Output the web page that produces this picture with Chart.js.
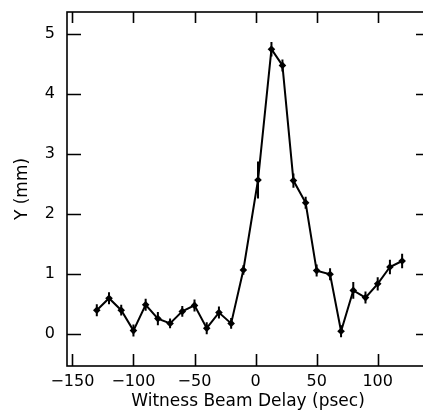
<!DOCTYPE html>
<html><head><meta charset="utf-8">
<style>html,body{margin:0;padding:0;background:#fff;overflow:hidden;width:423px;height:413px}
#wrap{position:relative;width:440px;height:413px}</style>
<script src="https://cdn.jsdelivr.net/npm/chart.js@4"></script>
</head><body><div id="wrap"><canvas id="c" width="440" height="413" style="width:440px;height:413px"></canvas></div>
<script>
const delay = [-130,-120,-110,-100,-90,-80,-70,-60,-50,-40,-30,-20,-10,2,13,22,31,41,50,61,70,80,90,100,110,120];
const yValues = [0.39,0.59,0.39,0.05,0.48,0.25,0.17,0.37,0.47,0.09,0.35,0.17,1.06,2.56,4.74,4.47,2.55,2.18,1.05,0.99,0.04,0.72,0.60,0.83,1.11,1.21];
const yErrors = [0.10,0.10,0.09,0.10,0.10,0.11,0.08,0.09,0.10,0.10,0.10,0.09,0.08,0.31,0.12,0.10,0.12,0.10,0.10,0.10,0.10,0.14,0.10,0.11,0.12,0.12];
const xTicks = [-150,-100,-50,0,50,100];
const yTicks = [0,1,2,3,4,5];
const xTitle = 'Witness Beam Delay (psec)';
const yTitle = 'Y (mm)';

const fmt = v => (v < 0 ? '\u2212' + Math.abs(v) : String(v));
const FONT = "'DejaVu Sans', sans-serif";

const framePlugin = {
  id: 'frame',
  afterDatasetsDraw(chart) {
    const {ctx, chartArea: a, scales: {x, y}} = chart;
    ctx.save();
    ctx.strokeStyle = '#000';
    // error bars
    ctx.lineWidth = 2;
    ctx.beginPath();
    delay.forEach((d, i) => {
      const px = x.getPixelForValue(d);
      ctx.moveTo(px, y.getPixelForValue(yValues[i] - yErrors[i]));
      ctx.lineTo(px, y.getPixelForValue(yValues[i] + yErrors[i]));
    });
    ctx.stroke();
    // frame
    ctx.lineWidth = 1.6;
    ctx.strokeRect(a.left, a.top, a.right - a.left, a.bottom - a.top);
    // inward ticks
    ctx.beginPath();
    xTicks.forEach(v => {
      const px = Math.round(x.getPixelForValue(v)) + 0.5;
      ctx.moveTo(px, a.bottom); ctx.lineTo(px, a.bottom - 12);
      ctx.moveTo(px, a.top); ctx.lineTo(px, a.top + 11);
    });
    yTicks.forEach(v => {
      const py = Math.round(y.getPixelForValue(v)) + 0.5;
      ctx.moveTo(a.left, py); ctx.lineTo(a.left + 14, py);
      ctx.moveTo(a.right, py); ctx.lineTo(a.right - 13, py);
    });
    ctx.stroke();
    ctx.restore();
  }
};

new Chart(document.getElementById('c'), {
  type: 'scatter',
  data: {
    datasets: [{
      data: delay.map((d, i) => ({x: d, y: yValues[i]})),
      showLine: true,
      borderColor: '#000',
      backgroundColor: '#000',
      borderWidth: 2,
      pointStyle: 'rectRot',
      pointRadius: 3.8,
      pointBorderWidth: 0,
      tension: 0
    }]
  },
  options: {
    responsive: false,
    animation: false,
    devicePixelRatio: 1,
    layout: {padding: {left: 0, right: 11, top: 12, bottom: 0}},
    plugins: {legend: {display: false}, tooltip: {enabled: false}},
    scales: {
      x: {
        type: 'linear', min: -154.4, max: 142,
        grid: {display: false, drawTicks: false, tickLength: 0},
        border: {display: false},
        afterBuildTicks: s => { s.ticks = xTicks.map(v => ({value: v})); },
        afterFit: s => { s.height = 47; s.paddingLeft = 0; s.paddingRight = 0; },
        ticks: {color: '#000', font: {family: FONT, size: 16}, padding: 6, callback: v => fmt(v), maxRotation: 0, autoSkip: false},
        title: {display: true, text: xTitle, color: '#000', font: {family: FONT, size: 17}, padding: {top: 0, bottom: 1}}
      },
      y: {
        type: 'linear', min: -0.54, max: 5.36,
        grid: {display: false, drawTicks: false, tickLength: 0},
        border: {display: false},
        afterBuildTicks: s => { s.ticks = yTicks.map(v => ({value: v})); },
        afterFit: s => { s.width = 67; s.paddingTop = 0; s.paddingBottom = 0; },
        ticks: {color: '#000', font: {family: FONT, size: 16}, padding: 12, callback: v => fmt(v)},
        title: {display: true, text: yTitle, color: '#000', font: {family: FONT, size: 17}, padding: {top: 12, bottom: 0}}
      }
    }
  },
  plugins: [framePlugin]
});
</script>
</body></html>
